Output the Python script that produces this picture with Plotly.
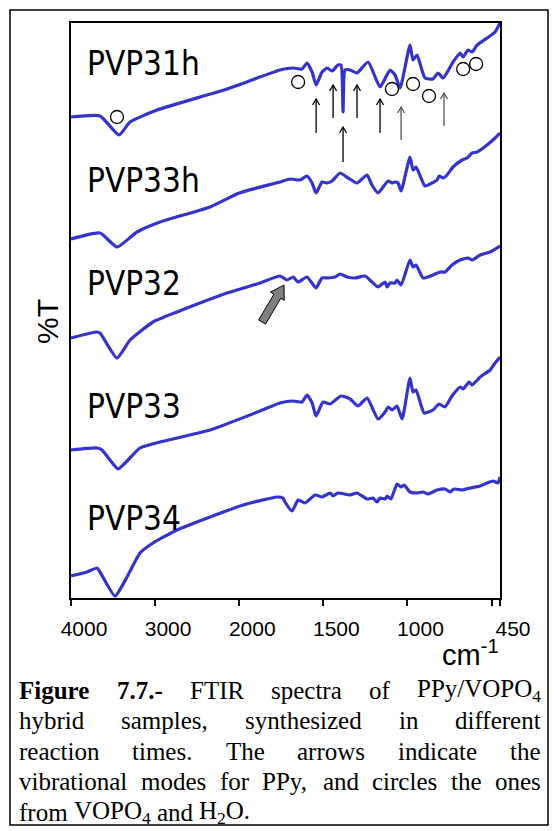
import re
import plotly.graph_objects as go

# ---------------- data ----------------
names = ["PVP31h", "PVP33h", "PVP32", "PVP33", "PVP34"]

wn_31h = [4000, 3655, 3429, 3298, 2977, 2145, 1758, 1680, 1627, 1597, 1567, 1543, 1508, 1478, 1448, 1413,
          1395, 1383, 1371, 1341, 1300, 1234, 1163, 1104, 1074, 1044, 985, 967, 943, 896, 848, 818, 788, 729,
          687, 669, 640, 616, 586, 527, 479, 450]
T_31h = [483, 484, 465, 478, 490, 511, 530, 532, 531, 537, 528, 515, 528, 532, 529, 535,
         535, 488, 530, 530, 527, 538, 513, 530, 525, 512, 555, 540, 545, 522, 521, 527, 522, 538,
         547, 543, 550, 548, 555, 562, 568, 577]

wn_33h = [4000, 3655, 3453, 3215, 2942, 2347, 2000, 1758, 1698, 1639, 1597, 1567, 1543, 1508, 1478, 1448,
          1401, 1353, 1300, 1240, 1211, 1175, 1115, 1092, 1074, 1056, 1038, 985, 967, 949, 896, 854, 824,
          812, 788, 765, 729, 675, 646, 628, 616, 586, 527, 479, 450]
T_33h = [361, 367, 353, 368, 378, 393, 407, 418, 421, 420, 424, 417, 407, 418, 417, 419,
         427, 422, 417, 425, 415, 407, 419, 417, 418, 417, 409, 443, 430, 433, 414, 417, 420,
         424, 422, 425, 433, 440, 442, 445, 447, 448, 455, 462, 467]

wn_32 = [4000, 3691, 3655, 3453, 3298, 3025, 2740, 2145, 1876, 1758, 1716, 1680, 1650, 1597, 1543, 1508,
         1472, 1430, 1401, 1359, 1312, 1252, 1211, 1175, 1133, 1121, 1104, 1074, 1062, 1038, 985, 967, 949,
         907, 848, 806, 777, 735, 687, 640, 616, 568, 509, 450]
T_32 = [262, 268, 267, 242, 260, 278, 288, 307, 317, 324, 320, 323, 318, 323, 312, 322,
        322, 323, 326, 323, 322, 324, 318, 313, 318, 313, 317, 317, 320, 315, 340, 333, 335,
        322, 325, 328, 328, 335, 340, 342, 340, 345, 348, 354]

wn_33 = [4000, 3691, 3631, 3441, 3322, 3180, 2942, 2347, 1876, 1758, 1680, 1627, 1597, 1567, 1543, 1502,
         1460, 1395, 1341, 1294, 1240, 1175, 1133, 1115, 1092, 1062, 1032, 985, 967, 949, 901, 848, 812,
         777, 735, 687, 669, 634, 616, 568, 509, 479, 450]
T_33 = [150, 152, 150, 131, 140, 152, 158, 170, 189, 197, 199, 198, 205, 197, 184, 198,
        196, 204, 201, 194, 202, 181, 188, 193, 190, 194, 181, 222, 208, 210, 187, 190, 196,
        193, 204, 213, 211, 218, 215, 223, 230, 237, 243]

wn_34 = [4000, 3810, 3691, 3655, 3477, 3334, 3180, 3025, 2740, 2347, 1977, 1775, 1740, 1728, 1686, 1650,
         1609, 1549, 1508, 1460, 1442, 1413, 1341, 1300, 1240, 1205, 1181, 1163, 1133, 1121, 1098, 1062,
         1038, 1020, 985, 943, 907, 878, 824, 777, 747, 723, 675, 628, 568, 527, 491, 462, 450]
T_34 = [24, 28, 32, 28, 4, 23, 47, 57, 70, 83, 95, 103, 102, 98, 89, 100,
        97, 105, 103, 107, 104, 107, 105, 107, 101, 102, 98, 102, 101, 104, 101, 116,
        113, 115, 108, 107, 108, 106, 110, 111, 108, 111, 110, 112, 114, 117, 119, 117, 123]

spectra_wn = [wn_31h, wn_33h, wn_32, wn_33, wn_34]
spectra_T = [T_31h, T_33h, T_32, T_33, T_34]

label_wn = 3835
label_T = [537, 420, 317, 194, 82]

# circles: VOPO4 / H2O modes
circle_wn = [3453, 1650, 1092, 967, 872, 669, 592]
circle_T = [483, 518, 511, 516, 504, 531, 536]

# arrows: PPy modes (wavenumber, tail, head)
arrow_wn = [1543, 1442, 1383, 1300, 1163, 1038, 783]
arrow_T0 = [467, 482, 438, 482, 467, 460, 474]
arrow_T1 = [501, 515, 473, 515, 501, 493, 507]
arrow_col = ["#000000"] * 5 + ["#555555"] * 2

# grey block arrow (tail, tip)
big_arrow_wn = [1864, 1734]
big_arrow_T = [278, 315]

tick_wn = [4000, 3000, 2000, 1500, 1000, 500, 450]
tick_txt = ["4000", "3000", "2000", "1500", "1000", "", "450"]

caption_lines = [
    "<b>Figure</b> <b>7.7.-</b> FTIR spectra of PPy/VOPO<sub>4</sub>",
    "hybrid samples, synthesized in different",
    "reaction times. The arrows indicate the",
    "vibrational modes for PPy, and circles the ones",
    "from VOPO<sub>4</sub> and H<sub>2</sub>O.",
]

# ---------------- helpers ----------------
def wn_to_t(w):
    # axis is compressed by 2 above 2000 cm-1
    return (4000 - w) / 2.0 if w >= 2000 else 1000 + (2000 - w)

T_MAX = wn_to_t(450)
W, H = 554, 831
L, R, TOP, B = 71, 54, 23, 233
PW, PH = W - L - R, H - TOP - B
Y0, Y1 = 2, 577
SX = PW / T_MAX          # px per t unit
SY = PH / (Y1 - Y0)      # px per T unit

def px2paper(x, y):
    return (x - L) / PW, (H - B - y) / PH

fig = go.Figure()
BLUE = "#3434CC"
for wn, tv in zip(spectra_wn, spectra_T):
    fig.add_trace(go.Scatter(x=[wn_to_t(w) for w in wn], y=tv, mode="lines",
                             line=dict(color=BLUE, width=3.2, shape="spline", smoothing=0.5),
                             hoverinfo="skip", showlegend=False, cliponaxis=False))

# circles
fig.add_trace(go.Scatter(x=[wn_to_t(w) for w in circle_wn], y=circle_T, mode="markers",
                         marker=dict(symbol="circle-open", size=13, color="black",
                                     line=dict(width=1.3, color="black")),
                         showlegend=False, hoverinfo="skip"))

# thin arrows
hw, hh = 3.5 / SX, 6 / SY
for w, a0, a1, c in zip(arrow_wn, arrow_T0, arrow_T1, arrow_col):
    t = wn_to_t(w)
    xs = [t, t, None, t - hw, t, t + hw]
    ys = [a0, a1, None, a1 - hh, a1, a1 - hh]
    fig.add_trace(go.Scatter(x=xs, y=ys, mode="lines", line=dict(color=c, width=1.3),
                             showlegend=False, hoverinfo="skip"))

# grey block arrow as polygon
qx, qy = wn_to_t(big_arrow_wn[0]) * SX, big_arrow_T[0] * SY
px_, py_ = wn_to_t(big_arrow_wn[1]) * SX, big_arrow_T[1] * SY
dx, dy = px_ - qx, py_ - qy
ln = (dx * dx + dy * dy) ** 0.5
ux, uy = dx / ln, dy / ln
nx, ny = -uy, ux
hl, hwid, sw = 13, 8, 4
pts = [
    (qx + nx * sw, qy + ny * sw),
    (px_ - ux * hl + nx * sw, py_ - uy * hl + ny * sw),
    (px_ - ux * hl + nx * hwid, py_ - uy * hl + ny * hwid),
    (px_, py_),
    (px_ - ux * hl - nx * hwid, py_ - uy * hl - ny * hwid),
    (px_ - ux * hl - nx * sw, py_ - uy * hl - ny * sw),
    (qx - nx * sw, qy - ny * sw),
]
path = "M " + " L ".join(f"{x / SX:.3f},{y / SY:.3f}" for x, y in pts) + " Z"
fig.add_shape(type="path", path=path, xref="x", yref="y", fillcolor="#808080",
              line=dict(color="black", width=1))

# sample labels
for n, ty in zip(names, label_T):
    fig.add_annotation(x=wn_to_t(label_wn), y=ty, text=n, showarrow=False, xanchor="left",
                       yanchor="middle",
                       font=dict(family="DejaVu Sans Condensed, DejaVu Sans", size=33, color="black"))

# axis titles
x, y = px2paper(47, 322)
fig.add_annotation(x=x, y=y, xref="paper", yref="paper", text="%T", textangle=-90,
                   xanchor="center", yanchor="middle",
                   showarrow=False, font=dict(family="Liberation Sans", size=30, color="black"))
x, y = px2paper(501, 673)
fig.add_annotation(x=x, y=y, xref="paper", yref="paper", text="cm<sup>-1</sup>", xanchor="right",
                   yanchor="bottom", showarrow=False,
                   font=dict(family="Liberation Sans", size=29, color="black"))

# caption with justified lines
REG = {' ': 250, '.': 250, ',': 250, '-': 333, '/': 278}
REG.update({d: 500 for d in "0123456789"})
REG.update(dict(a=444, b=500, c=444, d=500, e=444, f=333, g=500, h=500, i=278, j=278, k=500, l=278,
                m=778, n=500, o=500, p=500, q=500, r=333, s=389, t=278, u=500, v=500, w=722, x=500,
                y=500, z=444))
REG.update(dict(A=722, B=667, C=667, D=722, E=611, F=556, G=722, H=722, I=333, J=389, K=722, L=611,
                M=889, N=722, O=722, P=556, Q=722, R=667, S=556, T=611, U=722, V=722, W=944, X=722,
                Y=722, Z=611))
BOLD = dict(REG)
BOLD.update(dict(F=611, u=556, r=444))

def mw(m, size):
    bold = sub = False
    tot = 0
    for tok in re.split(r"(</?b>|</?sub>)", m):
        if tok == "<b>": bold = True
        elif tok == "</b>": bold = False
        elif tok == "<sub>": sub = True
        elif tok == "</sub>": sub = False
        else:
            tab = BOLD if bold else REG
            s = size * 0.7 if sub else size
            tot += sum(tab.get(ch, 500) for ch in tok) / 1000 * s
    return tot

CAP_SIZE = 25
cap_x0, cap_x1 = 19, 541
cap_y = [690, 720.5, 751, 781.5, 812]
for i, (line, yy) in enumerate(zip(caption_lines, cap_y)):
    words = line.split(" ")
    widths = [mw(wd, CAP_SIZE) for wd in words]
    if i < len(caption_lines) - 1:
        gap = (cap_x1 - cap_x0 - sum(widths)) / (len(words) - 1)
    else:
        gap = 0.25 * CAP_SIZE
    xc = cap_x0
    for wd, wdw in zip(words, widths):
        ax, ay = px2paper(xc - 1, yy)
        fig.add_annotation(x=ax, y=ay, xref="paper", yref="paper", text=wd, showarrow=False,
                           xanchor="left", yanchor="middle", borderpad=0,
                           font=dict(family="Liberation Serif", size=CAP_SIZE, color="black"))
        xc += wdw + gap

# outer frame
fx0, fy1 = px2paper(10, 10)
fx1, fy0 = px2paper(548, 825)
fig.add_shape(type="rect", xref="paper", yref="paper", x0=fx0, x1=fx1, y0=fy0, y1=fy1,
              line=dict(color="black", width=1.5))

fig.update_layout(
    width=W, height=H, margin=dict(l=L, r=R, t=TOP, b=B),
    paper_bgcolor="white", plot_bgcolor="white", showlegend=False,
    xaxis=dict(range=[0, T_MAX], tickvals=[wn_to_t(w) for w in tick_wn], ticktext=tick_txt,
               ticks="outside", ticklen=6, tickwidth=1.5, tickcolor="black",
               showline=True, linecolor="black", linewidth=2, mirror=True, showgrid=False,
               zeroline=False, ticklabelshift=13, ticklabelstandoff=5,
               tickfont=dict(family="Liberation Sans", size=21, color="black")),
    yaxis=dict(range=[Y0, Y1], showticklabels=False, ticks="", showline=True, linecolor="black",
               linewidth=2, mirror=True, showgrid=False, zeroline=False),
)

fig.write_html("out.html")
